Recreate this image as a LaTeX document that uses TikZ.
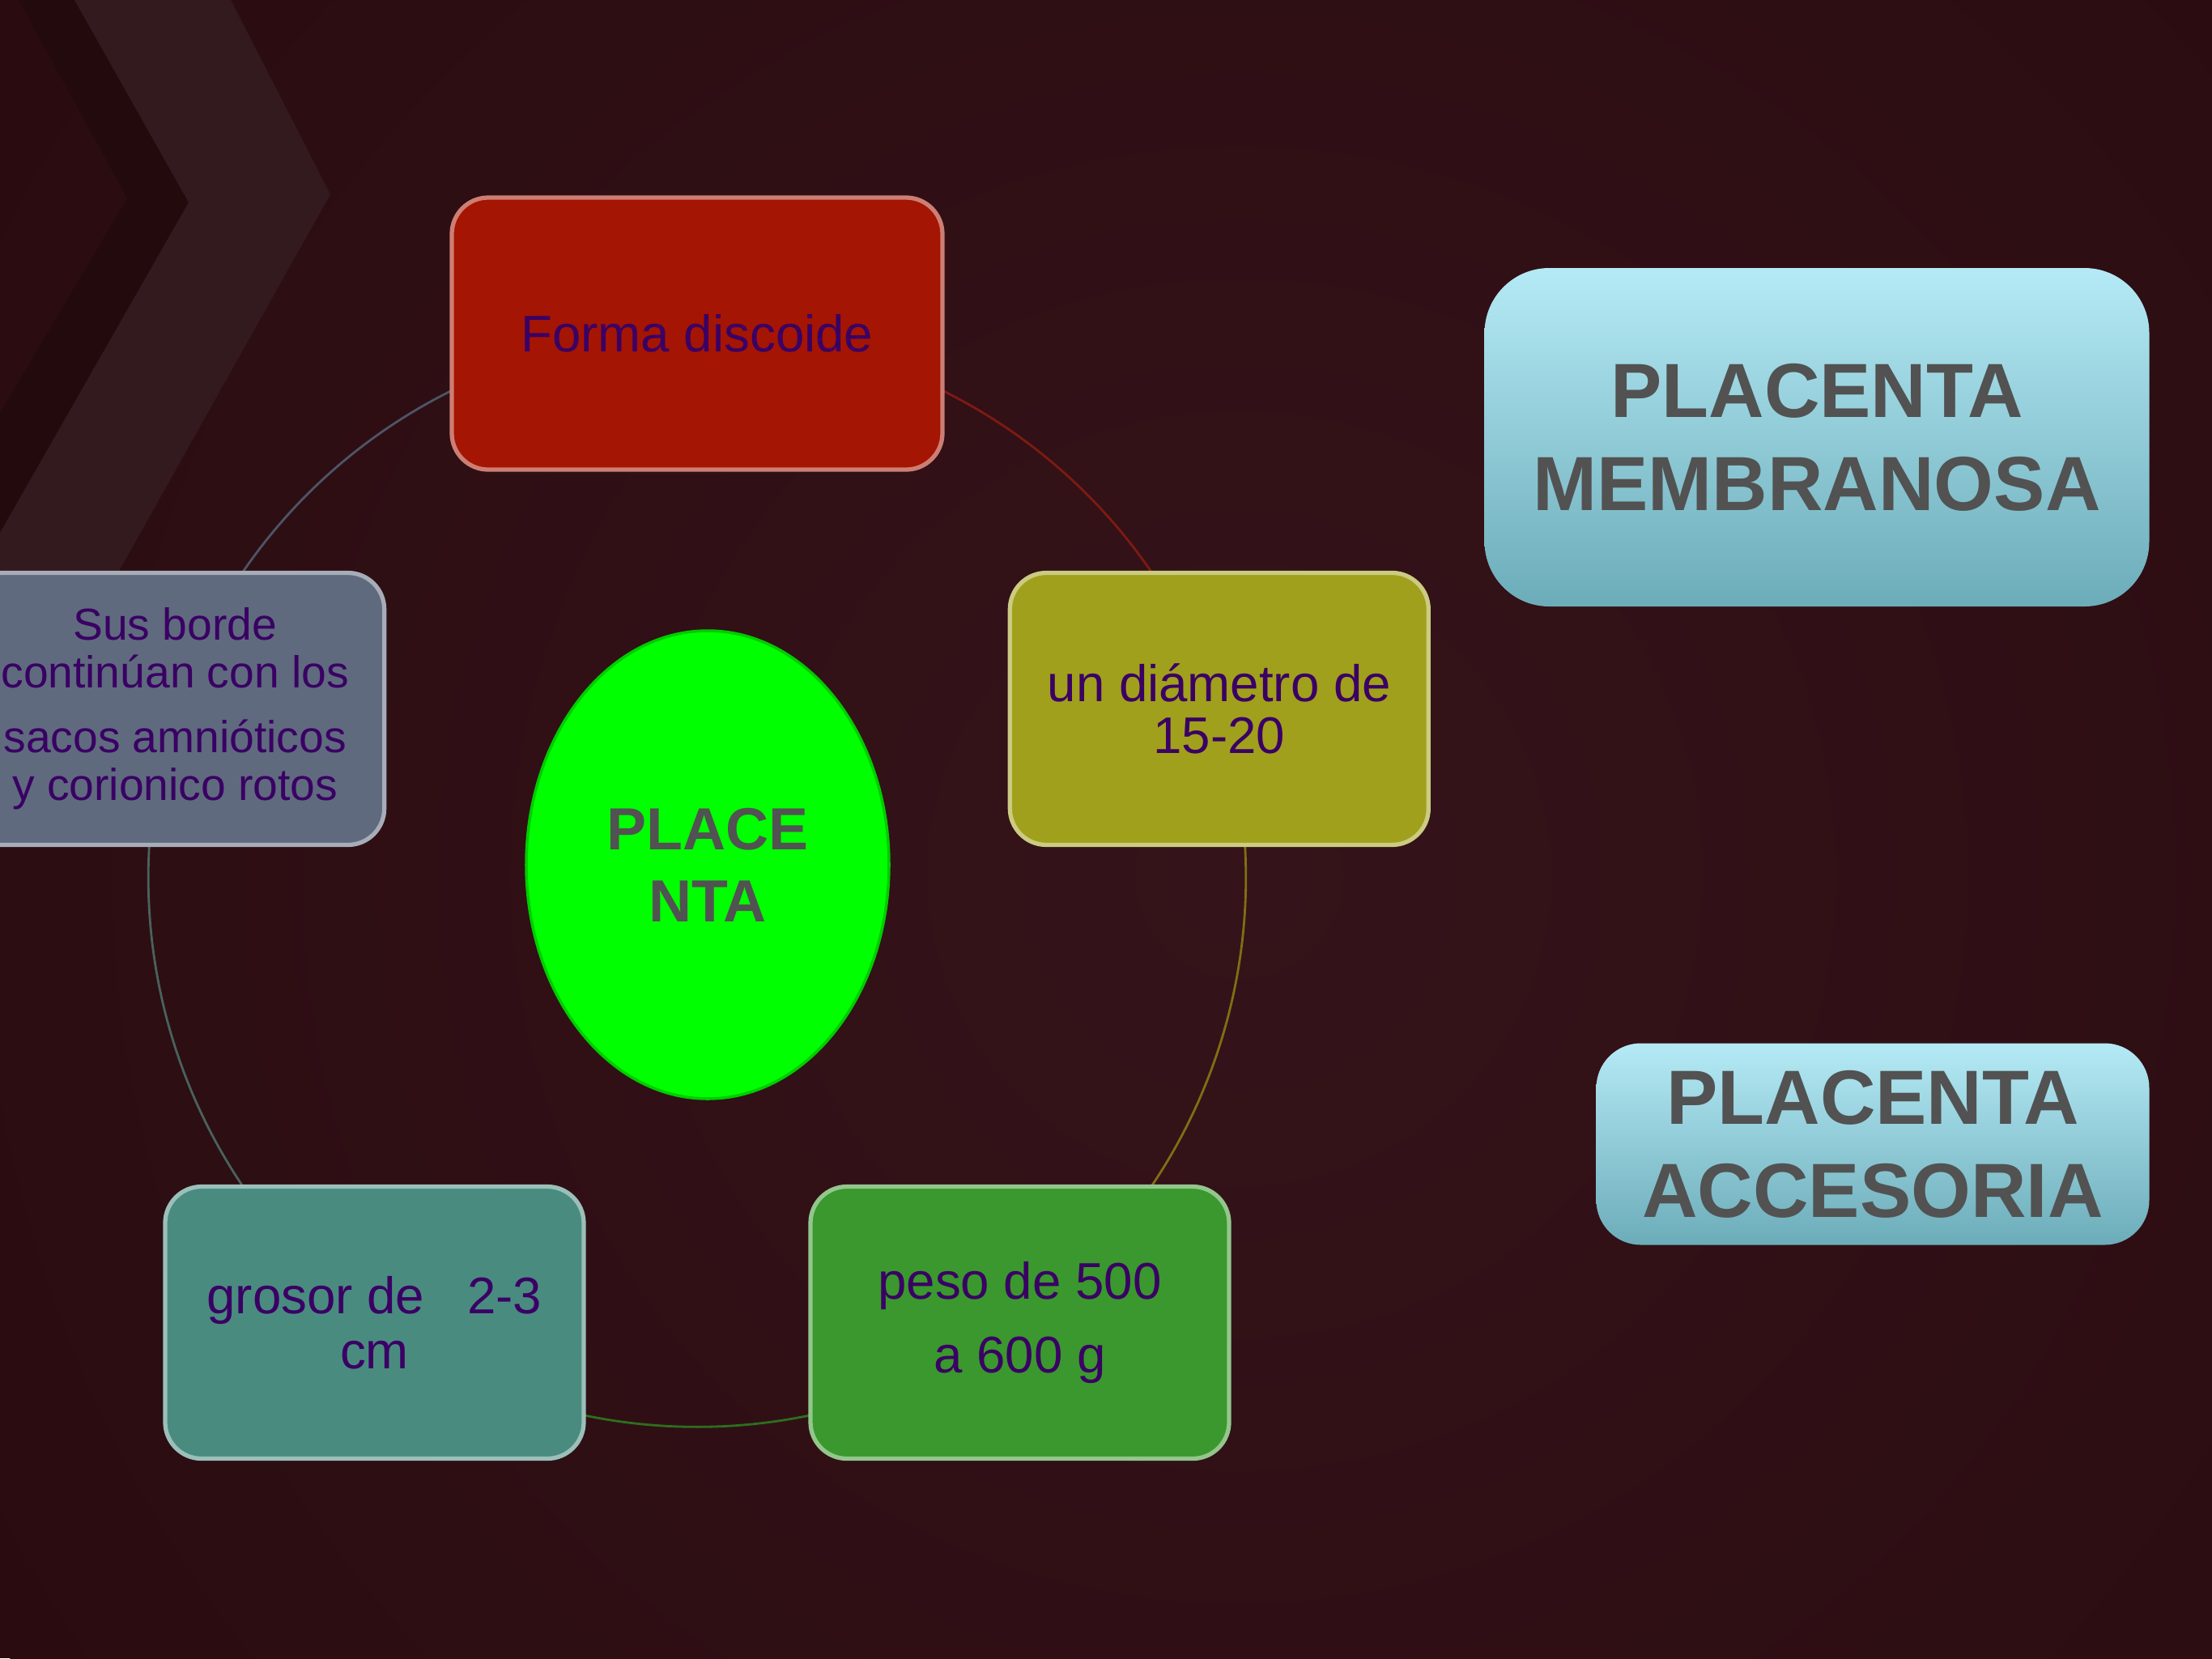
\documentclass[tikz,border=0pt]{standalone}
\usepackage{fontspec}
\setmainfont{Liberation Sans}
\usetikzlibrary{shapes.geometric,backgrounds}

\definecolor{backdrop}{HTML}{2A0C10}
\definecolor{glow}{HTML}{35131A}
\definecolor{chevronlight}{HTML}{331A1E}
\definecolor{chevrondark}{HTML}{220A0D}
\definecolor{notepurple}{HTML}{3A0064}
\definecolor{labelgray}{HTML}{525252}
\definecolor{formared}{HTML}{A51503}
\definecolor{diamolive}{HTML}{A0A01C}
\definecolor{pesogreen}{HTML}{3A982E}
\definecolor{grosorteal}{HTML}{4A8B80}
\definecolor{susslate}{HTML}{5F6A7E}
\definecolor{hubgreen}{HTML}{00FF00}
\definecolor{typetop}{HTML}{B4EAF5}
\definecolor{typebottom}{HTML}{6CACB9}
\definecolor{ringred}{HTML}{7E1A12}
\definecolor{ringolive}{HTML}{806E14}
\definecolor{ringgreen}{HTML}{2E6E1E}
\definecolor{ringteal}{HTML}{48625E}
\definecolor{ringslate}{HTML}{4E5466}

\begin{document}
\begin{tikzpicture}[
  cyclebox/.style={draw=#1!55!white, fill=#1, line width=1.5pt, rounded corners=4.5mm,
    minimum width=51.7mm, minimum height=33.6mm, align=center, text=notepurple,
    font=\fontsize{18.1}{18.2}\selectfont},
  typebox/.style={top color=typetop, bottom color=typebottom, rounded corners=#1,
    align=center, text=labelgray, font=\bfseries\fontsize{27}{32.7}\selectfont},
  ring/.style={line width=0.8pt, bend left=36, looseness=0.94}
]
  \useasboundingbox (0,0) rectangle (27.32,-20.48);

  % cycle round the hub
  \begin{scope}[shift={(8.61,-10.85)}]
    \node[cyclebox=formared, minimum width=60.6mm] (forma) at (0,6.73) {Forma discoide};
    \node[cyclebox=diamolive] (diametro) at (18:6.78) {un diámetro de\\15-20};
    \node[cyclebox=pesogreen, font=\fontsize{18.1}{26}\selectfont] (peso) at (-54:6.78) {peso de 500\\a 600 g};
    \node[cyclebox=grosorteal, font=\fontsize{18.1}{19.3}\selectfont] (grosor) at (234:6.78) {grosor de\ \ \ 2-3\\cm};
    \node[cyclebox=susslate, font=\fontsize{15.7}{16.8}\selectfont] (sus) at (162:6.78)
      {Sus borde\\continúan con los\\[2.1mm]sacos amnióticos\\y corionico rotos};
  \end{scope}

  \node[ellipse, fill=hubgreen, draw=green!80!black, line width=1pt, minimum width=44.8mm,
    minimum height=57.8mm, inner sep=0pt, align=center, text=labelgray,
    font=\bfseries\fontsize{20.9}{25.3}\selectfont] (placenta) at (8.74,-10.68) {PLACE\\NTA};

  \node[typebox=8mm, minimum width=82.1mm, minimum height=41.8mm] (membranosa) at (22.44,-5.40)
    {PLACENTA\\MEMBRANOSA};
  \node[typebox=5.5mm, minimum width=68.3mm, minimum height=24.9mm] (accesoria) at (23.13,-14.13)
    {PLACENTA\\ACCESORIA};

  \begin{scope}[on background layer]
    \fill[backdrop] (0,0) rectangle (27.32,-20.48);
    \shade[inner color=glow, outer color=backdrop] (15.3,-10.8) circle (18);
    % chevrons, top left
    \fill[chevrondark] (0.23,0) -- (0.92,0) -- (2.33,-2.50) -- (0,-6.58) -- (0,-5.10) -- (1.57,-2.45) -- cycle;
    \fill[chevronlight] (0.92,0) -- (2.85,0) -- (4.08,-2.40) -- (0,-9.67) -- (0,-6.58) -- (2.33,-2.50) -- cycle;
    % ring
    \draw[ring, ringred] (forma.center) to (diametro.center);
    \draw[ring, ringolive] (diametro.center) to (peso.center);
    \draw[ring, ringgreen] (peso.center) to (grosor.center);
    \draw[ring, ringteal] (grosor.center) to (sus.center);
    \draw[ring, ringslate] (sus.center) to (forma.center);
  \end{scope}
\end{tikzpicture}
\end{document}
